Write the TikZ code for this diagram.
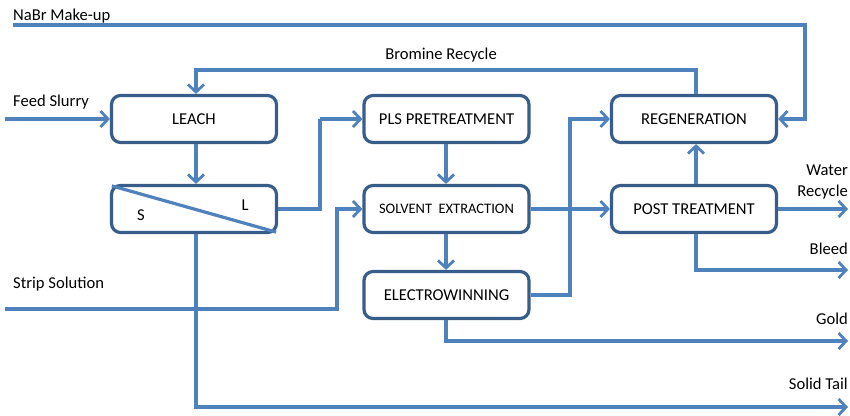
\documentclass[tikz,border=0pt]{standalone}
\usepackage{fontspec}
\setmainfont{Carlito}
\usetikzlibrary{arrows.meta,calc}
\definecolor{lineblue}{RGB}{79,129,189}
\definecolor{boxblue}{RGB}{56,93,138}
\begin{document}
\begin{tikzpicture}[x=1pt,y=-1pt,
  procbox/.style={draw=boxblue,line width=3.2pt,rounded corners=9pt,fill=white,minimum width=165pt,minimum height=47pt,inner sep=0pt,font=\fontsize{16.6}{18}\selectfont},
  flow/.style={draw=lineblue,line width=3.2pt,-{Straight Barb[length=7.5pt,width=16pt,line width=2.8pt]}},
  plain/.style={draw=lineblue,line width=3.2pt},
  lbl/.style={font=\fontsize{16.6}{18}\selectfont,inner sep=0pt}]
\useasboundingbox (0,0) rectangle (850,415);
% boxes
\node[procbox] (leach) at (194,119) {LEACH};
\node[procbox] (sl) at (194,209) {};
\node[procbox] (pls) at (446.5,119) {PLS PRETREATMENT};
\node[procbox,font=\fontsize{14.5}{16}\selectfont] (sx) at (446.5,209) {SOLVENT\ \ EXTRACTION};
\node[procbox] (ew) at (446.5,295) {ELECTROWINNING};
\node[procbox] (regen) at (694,119) {REGENERATION};
\node[procbox] (post) at (694,209) {POST TREATMENT};
% S/L divider
\draw[plain] ($(sl.north west)+(2,2)$) -- ($(sl.south east)+(-2,-2)$);
\node[lbl] (slS) at (141,215) {S};
\node[lbl] (slL) at (245,205) {L};
% coordinates
\coordinate (nabrA) at (13,25);
\coordinate (nabrB) at (805,25);
\coordinate (nabrC) at (805,119);
\coordinate (bromA) at (696,70);
\coordinate (bromB) at (196,70);
\coordinate (feedA) at (5,119);
\coordinate (slr) at (320,209);
\coordinate (slr2) at (320,119);
\coordinate (stripA) at (5,309);
\coordinate (stripB) at (337,309);
\coordinate (stripC) at (337,209);
\coordinate (ewr) at (570,295);
\coordinate (ewr2) at (570,119);
\coordinate (waterEnd) at (848,209);
\coordinate (bleedA) at (696,270);
\coordinate (bleedEnd) at (848,270);
\coordinate (goldA) at (446,341);
\coordinate (goldEnd) at (848,341);
\coordinate (tailA) at (196,407);
\coordinate (tailEnd) at (848,407);
% labels
\node[lbl,anchor=base west] (nabrT) at (13,20) {NaBr Make-up};
\node[lbl,anchor=base] (bromT) at (441,59) {Bromine Recycle};
\node[lbl,anchor=base west] (feedT) at (13,106) {Feed Slurry};
\node[lbl,anchor=base west] (stripT) at (13,288) {Strip Solution};
\node[lbl,anchor=base east,align=right] (waterT) at (848,175) {Water};
\node[lbl,anchor=base east,align=right] (waterT2) at (848,196) {Recycle};
\node[lbl,anchor=base east] (bleedT) at (848,254) {Bleed};
\node[lbl,anchor=base east] (goldT) at (848,324) {Gold};
\node[lbl,anchor=base east] (tailT) at (848,389) {Solid Tail};
% connectors
\draw[flow] (nabrA) -- (nabrB) -- (nabrC) -- (regen.east);
\draw[flow] (regen.north -| bromA) -- (bromA) -- (bromB) -- (leach.north -| bromB);
\draw[flow] (feedA) -- (leach.west);
\draw[flow] (leach.south -| bromB) -- (sl.north -| bromB);
\draw[plain] (sl.east) -- (slr) -- (slr2);
\draw[flow] (slr2) -- (pls.west);
\draw[flow] (pls.south -| goldA) -- (sx.north -| goldA);
\draw[flow] (stripA) -- (stripB) -- (stripC) -- (sx.west);
\draw[flow] (sx.south -| goldA) -- (ew.north -| goldA);
\draw[flow] (sx.east) -- (post.west);
\draw[flow] (ew.east) -- (ewr) -- (ewr2) -- (regen.west);
\draw[flow] (post.north -| bromA) -- (regen.south -| bromA);
\draw[flow] (post.east) -- (waterEnd);
\draw[flow] (post.south -| bleedA) -- (bleedA) -- (bleedEnd);
\draw[flow] (ew.south -| goldA) -- (goldA) -- (goldEnd);
\draw[flow] (sl.south -| tailA) -- (tailA) -- (tailEnd);
\end{tikzpicture}
\end{document}
